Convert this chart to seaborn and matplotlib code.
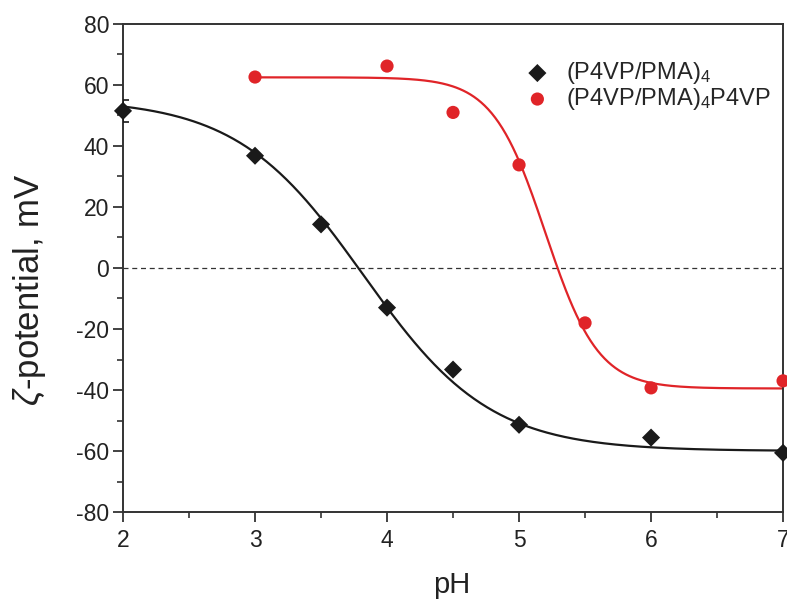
import numpy as np
import pandas as pd
import matplotlib
matplotlib.use("Agg")
import matplotlib.pyplot as plt
import seaborn as sns

# ---- data ----
ph_a = [2, 3, 3.5, 4, 4.5, 5, 6, 7]
zeta_a = [51.5, 36.8, 14.3, -13.0, -33.3, -51.4, -55.6, -60.6]
err_a = [3.5, 0, 0, 0, 0, 0, 0, 0]

ph_b = [3, 4, 4.5, 5, 5.5, 6, 7]
zeta_b = [62.6, 66.2, 51.0, 33.8, -18.0, -39.3, -37.0]

label_a = "(P4VP/PMA)$_4$"
label_b = "(P4VP/PMA)$_4$P4VP"

# Boltzmann fit parameters (A1, A2, x0, dx)
fit_a = (55.5, -60.0, 3.82, 0.48)
fit_b = (62.5, -39.5, 5.20, 0.20)


def boltzmann(x, a1, a2, x0, dx):
    return a2 + (a1 - a2) / (1 + np.exp((x - x0) / dx))


sns.set_theme(style="ticks")
plt.rcParams["font.family"] = ["Liberation Sans", "DejaVu Sans"]
plt.rcParams["mathtext.fontset"] = "custom"
plt.rcParams["mathtext.rm"] = "Liberation Sans"
plt.rcParams["mathtext.it"] = "Liberation Sans:italic"
plt.rcParams["axes.unicode_minus"] = False

fig = plt.figure(figsize=(7.87, 5.99), dpi=100)
ax = fig.add_axes([0.1563, 0.1452, 0.8387, 0.8148])

xa = np.linspace(min(ph_a), max(ph_a), 300)
xb = np.linspace(min(ph_b), max(ph_b), 300)
sns.lineplot(x=xa, y=boltzmann(xa, *fit_a), ax=ax, color="#1a1a1a", lw=1.6, zorder=2)
sns.lineplot(x=xb, y=boltzmann(xb, *fit_b), ax=ax, color="#e02428", lw=1.6, zorder=2)

ax.axhline(0, color="#333333", lw=0.9, ls=(0, (4, 3)), zorder=1)

ax.errorbar(ph_a, zeta_a, yerr=err_a, fmt="none", ecolor="#1a1a1a", elinewidth=1.2,
            capsize=4, capthick=1.2, zorder=3)

df_a = pd.DataFrame({"pH": ph_a, "zeta": zeta_a})
df_b = pd.DataFrame({"pH": ph_b, "zeta": zeta_b})
sns.scatterplot(data=df_a, x="pH", y="zeta", ax=ax, marker="D", s=85, color="#1a1a1a",
                edgecolor="none", label=label_a, zorder=4, clip_on=False)
sns.scatterplot(data=df_b, x="pH", y="zeta", ax=ax, marker="o", s=90, color="#e02428",
                edgecolor="none", label=label_b, zorder=4, clip_on=False)

ax.set_xlim(2, 7)
ax.set_ylim(-80, 80)
ax.set_xticks([2, 3, 4, 5, 6, 7])
ax.set_yticks(range(-80, 81, 20))
ax.set_xticks(np.arange(2.5, 7, 1), minor=True)
ax.set_yticks(range(-70, 80, 20), minor=True)
ax.tick_params(axis="both", which="major", direction="out", length=7, width=1.3,
               labelsize=16.5, color="#333333", labelcolor="#222222", pad=3)
ax.tick_params(axis="x", which="major", pad=5)
ax.tick_params(axis="both", which="minor", direction="out", length=4, width=1.2,
               color="#333333")
for s in ax.spines.values():
    s.set_linewidth(1.4)
    s.set_color("#333333")

ax.set_xlabel("pH", fontsize=21, color="#222222", va="center")
ax.xaxis.set_label_coords(0.498, -0.15)
ax.set_ylabel(r"$\zeta$-potential, mV", fontsize=25, color="#222222", va="center")
ax.yaxis.set_label_coords(-0.1424, 0.455)

leg = ax.legend(loc="upper left", frameon=False, fontsize=17, handletextpad=0.6,
                borderaxespad=0.0, labelspacing=0.0, handlelength=1.2,
                bbox_to_anchor=(0.592, 0.945))

fig.savefig("out.png", dpi=100)
